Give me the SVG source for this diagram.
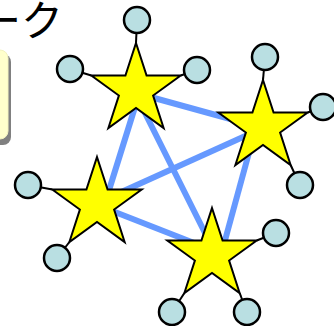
<svg xmlns="http://www.w3.org/2000/svg" xmlns:xlink="http://www.w3.org/1999/xlink" width="334" height="326" viewBox="0 0 334 326">
  <style>
    .title { font-family: "Noto Sans CJK JP", "Noto Sans", sans-serif; font-size: 42px; font-weight: 400; fill: #000000; }
    .link { stroke: #6699FF; stroke-width: 6; stroke-linecap: butt; fill: none; }
    .spoke { stroke: #000000; stroke-width: 2; fill: none; }
    .star { fill: #FFFF00; stroke: #000000; stroke-width: 2; stroke-linejoin: miter; }
    .leaf { fill: #B9DFE2; stroke: #000000; stroke-width: 2.5; }
  </style>
  <defs>
    <!-- five-pointed star, outer radius 47, centred on the origin -->
    <path id="starShape" d="M0,-47 L10.58,-14.56 L44.7,-14.52 L17.12,5.56 L27.63,38.02 L0,18 L-27.63,38.02 L-17.12,5.56 L-44.7,-14.52 L-10.58,-14.56 Z"/>
  </defs>

  <!-- heading (runs off the left edge) -->
  <text class="title" x="-21" y="36">ーク</text>

  <!-- side panel with drop shadow, mostly off-canvas -->
  <g id="panel">
    <rect x="-60" y="54" width="71" height="91" rx="8" fill="#808080"/>
    <rect x="-63" y="50" width="71" height="89" rx="8" fill="#FFFFCC" stroke="#F2F2C0" stroke-width="1"/>
  </g>

  <!-- mesh links between the stars -->
  <g id="connectors">
    <line class="link" x1="136" y1="93" x2="263" y2="128"/>
    <line class="link" x1="97" y1="203" x2="263" y2="128"/>
    <line class="link" x1="140" y1="91" x2="105" y2="203"/>
    <line class="link" x1="134" y1="91" x2="216" y2="255"/>
    <line class="link" x1="97" y1="205" x2="212" y2="250"/>
    <line class="link" x1="256" y1="127" x2="221" y2="255"/>
  </g>

  <g id="star1">
    <line class="spoke" x1="137" y1="20" x2="136" y2="43"/>
    <line class="spoke" x1="70" y1="69" x2="91.3" y2="75.5"/>
    <line class="spoke" x1="197" y1="70" x2="180.7" y2="75.5"/>
    <use xlink:href="#starShape" class="star" x="136" y="90"/>
    <circle class="leaf" cx="137" cy="20" r="13"/>
    <circle class="leaf" cx="70" cy="69" r="13"/>
    <circle class="leaf" cx="197" cy="70" r="13"/>
  </g>

  <g id="star2">
    <line class="spoke" x1="265" y1="57" x2="263" y2="80"/>
    <line class="spoke" x1="323" y1="107" x2="307.7" y2="112.5"/>
    <line class="spoke" x1="300" y1="185" x2="290.6" y2="165"/>
    <use xlink:href="#starShape" class="star" x="263" y="127"/>
    <circle class="leaf" cx="265" cy="57" r="13"/>
    <circle class="leaf" cx="323" cy="107" r="13"/>
    <circle class="leaf" cx="300" cy="185" r="13"/>
  </g>

  <g id="star3">
    <line class="spoke" x1="28" y1="185" x2="52.3" y2="189.5"/>
    <line class="spoke" x1="57" y1="258" x2="69.4" y2="242"/>
    <use xlink:href="#starShape" class="star" x="97" y="204"/>
    <circle class="leaf" cx="28" cy="185" r="13"/>
    <circle class="leaf" cx="57" cy="258" r="13"/>
  </g>

  <g id="star4">
    <line class="spoke" x1="276" y1="233" x2="256.7" y2="240.5"/>
    <line class="spoke" x1="172" y1="312" x2="184.4" y2="293"/>
    <line class="spoke" x1="247" y1="312" x2="239.6" y2="293"/>
    <use xlink:href="#starShape" class="star" x="212" y="255"/>
    <circle class="leaf" cx="276" cy="233" r="13"/>
    <circle class="leaf" cx="172" cy="312" r="13"/>
    <circle class="leaf" cx="247" cy="312" r="13"/>
  </g>
</svg>
